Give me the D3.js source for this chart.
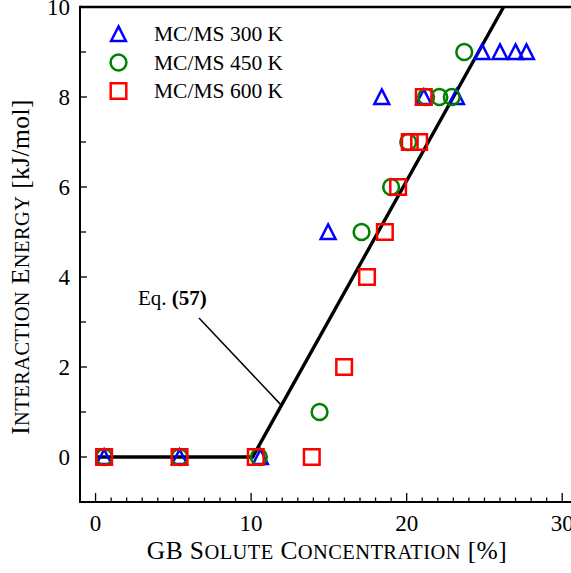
<!DOCTYPE html>
<html>
<head>
<meta charset="utf-8">
<script src="https://cdn.jsdelivr.net/npm/d3@7"></script>
<style>
  html, body { margin: 0; padding: 0; background: #fff; }
  svg { display: block; }
  text { font-family: "Liberation Serif", "DejaVu Serif", serif; fill: #000; }
</style>
</head>
<body>
<svg id="chart" width="571" height="573"></svg>
<script>
// GB solute concentration [%] and interaction energy [kJ/mol] per temperature
const conc300 = [0.55, 5.4, 10.6, 14.95, 18.4, 21.1, 23.2, 24.85, 26.0, 27.0, 27.7];
const energy300 = [0, 0, 0, 5, 8, 8, 8, 9, 9, 9, 9];
const conc450 = [0.55, 5.4, 10.5, 14.4, 17.1, 19.0, 20.1, 21.25, 22.1, 22.9, 23.7];
const energy450 = [0, 0, 0, 1, 5, 6, 7, 8, 8, 8, 9];
const conc600 = [0.55, 5.4, 10.3, 13.9, 15.98, 17.45, 18.6, 19.45, 20.2, 20.8, 21.1];
const energy600 = [0, 0, 0, 0, 2, 4, 5, 6, 7, 7, 8];

// Piecewise-linear model, Eq. (57)
const eqConc = [0, 10.1, 26.23];
const eqEnergy = [0, 0, 10];

const seriesLabels = ["MC/MS 300 K", "MC/MS 450 K", "MC/MS 600 K"];
const seriesColors = ["#0000ff", "#008000", "#ff0000"];
const seriesShapes = ["triangle", "circle", "square"];

const xTicks = [0, 10, 20, 30];
const yTicks = [0, 2, 4, 6, 8, 10];

const svg = d3.select("#chart");

const x = d3.scaleLinear().domain([-1, 30.5]).range([80, 570]);
const y = d3.scaleLinear().domain([-1, 10]).range([502, 7]);

const series = [
  { xs: conc300, ys: energy300 },
  { xs: conc450, ys: energy450 },
  { xs: conc600, ys: energy600 }
].map((s, i) => ({
  label: seriesLabels[i], color: seriesColors[i], shape: seriesShapes[i],
  points: s.xs.map((c, j) => ({ c, e: s.ys[j] }))
}));

function markerPath(shape) {
  const p = d3.path();
  if (shape === "triangle") {
    p.moveTo(0, -7.6); p.lineTo(7.4, 6.9); p.lineTo(-7.4, 6.9); p.closePath();
  } else if (shape === "circle") {
    p.arc(0, 0, 7.9, 0, 2 * Math.PI); p.closePath();
  } else {
    p.rect(-7.8, -7.8, 15.6, 15.6);
  }
  return p.toString();
}

// clip region for data marks
svg.append("defs").append("clipPath").attr("id", "plot-clip")
  .append("rect")
  .attr("x", x(-1)).attr("y", y(10))
  .attr("width", x(30.5) - x(-1)).attr("height", y(-1) - y(10));

// axes frame: left, top, bottom
const [x0, x1] = x.range();
const [yb, yt] = y.range();
svg.append("line").attr("x1", x0).attr("x2", x1 + 1).attr("y1", yt).attr("y2", yt)
  .attr("stroke", "#000").attr("stroke-width", 2.6);
svg.append("line").attr("x1", x0).attr("x2", x0).attr("y1", yt - 1.3).attr("y2", yb + 1)
  .attr("stroke", "#000").attr("stroke-width", 2);
svg.append("line").attr("x1", x0 - 1).attr("x2", x1 + 1).attr("y1", yb).attr("y2", yb)
  .attr("stroke", "#000").attr("stroke-width", 2);

// x ticks (inward): major every 10, minor every 1
const xMinor = d3.range(0, 31, 1);
svg.append("g").selectAll("line").data(xMinor).join("line")
  .attr("x1", d => x(d)).attr("x2", d => x(d))
  .attr("y1", yb).attr("y2", d => yb - (d % 10 === 0 ? 9 : 4.5))
  .attr("stroke", "#000").attr("stroke-width", 1.3);

// y ticks (inward): major every 2, minor every 1
const yMinor = d3.range(-1, 10, 1);
svg.append("g").selectAll("line").data(yMinor).join("line")
  .attr("x1", x0).attr("x2", d => x0 + (d % 2 === 0 ? 7 : 6))
  .attr("y1", d => y(d)).attr("y2", d => y(d))
  .attr("stroke", "#000").attr("stroke-width", 1.3);

// tick labels
svg.append("g").selectAll("text").data(xTicks).join("text")
  .attr("x", d => x(d)).attr("y", yb + 29)
  .attr("text-anchor", "middle").attr("font-size", 23)
  .text(d => d);
svg.append("g").selectAll("text").data(yTicks).join("text")
  .attr("x", 70).attr("y", d => y(d) + 8)
  .attr("text-anchor", "end").attr("font-size", 23)
  .text(d => d);

// small-caps helper: first letters of words full size, the rest reduced
function smallCaps(sel, str, big, small) {
  const words = str.split(" ");
  words.forEach((w, wi) => {
    const lead = wi === 0 ? "" : " ";
    if (/^[A-Z][a-z]+$/.test(w)) {
      sel.append("tspan").attr("font-size", big).text(lead + w[0]);
      sel.append("tspan").attr("font-size", small).text(w.slice(1).toUpperCase());
    } else {
      sel.append("tspan").attr("font-size", big).text(lead + w);
    }
  });
}

const xTitle = svg.append("text")
  .attr("x", 327).attr("y", 559)
  .attr("text-anchor", "middle")
  .attr("letter-spacing", 0.4);
smallCaps(xTitle, "GB Solute Concentration [%]", 25.5, 20.5);

const yTitle = svg.append("text")
  .attr("transform", `translate(29, 267) rotate(-90)`)
  .attr("text-anchor", "middle")
  .attr("letter-spacing", 0.4);
smallCaps(yTitle, "Interaction Energy [kJ/mol]", 25.5, 20.5);

// model line
const plot = svg.append("g").attr("clip-path", "url(#plot-clip)");
plot.append("path")
  .datum(eqConc.map((c, i) => ({ c, e: eqEnergy[i] })))
  .attr("d", d3.line().x(d => x(d.c)).y(d => y(d.e)))
  .attr("fill", "none").attr("stroke", "#000").attr("stroke-width", 3.4)
  .attr("stroke-linejoin", "miter");

// markers
series.forEach(s => {
  plot.append("g").selectAll("path").data(s.points).join("path")
    .attr("transform", d => `translate(${x(d.c)},${y(d.e)})`)
    .attr("d", markerPath(s.shape))
    .attr("fill", "none").attr("stroke", s.color).attr("stroke-width", 2.5);
});

// annotation for the model curve
const annStart = { c: 6.65, e: 3.09 };
const annEndC = 11.95;
const annEnd = { c: annEndC, e: (annEndC - eqConc[1]) * (eqEnergy[2] - eqEnergy[1]) / (eqConc[2] - eqConc[1]) };
svg.append("line")
  .attr("x1", x(annStart.c)).attr("y1", y(annStart.e))
  .attr("x2", x(annEnd.c)).attr("y2", y(annEnd.e))
  .attr("stroke", "#000").attr("stroke-width", 1.5);
const eqLabel = svg.append("text")
  .attr("x", 138).attr("y", y(annStart.e) - 13)
  .attr("font-size", 21);
eqLabel.append("tspan").text("Eq. ");
eqLabel.append("tspan").attr("font-weight", "bold").text("(57)");

// legend
const legend = svg.append("g");
series.forEach((s, i) => {
  const ly = 34 + i * 28.5;
  legend.append("path")
    .attr("transform", `translate(118.5,${ly})`)
    .attr("d", markerPath(s.shape))
    .attr("fill", "none").attr("stroke", s.color).attr("stroke-width", 2.5);
  legend.append("text")
    .attr("x", 154).attr("y", ly + 7)
    .attr("font-size", 21.5)
    .text(s.label);
});
</script>
</body>
</html>
